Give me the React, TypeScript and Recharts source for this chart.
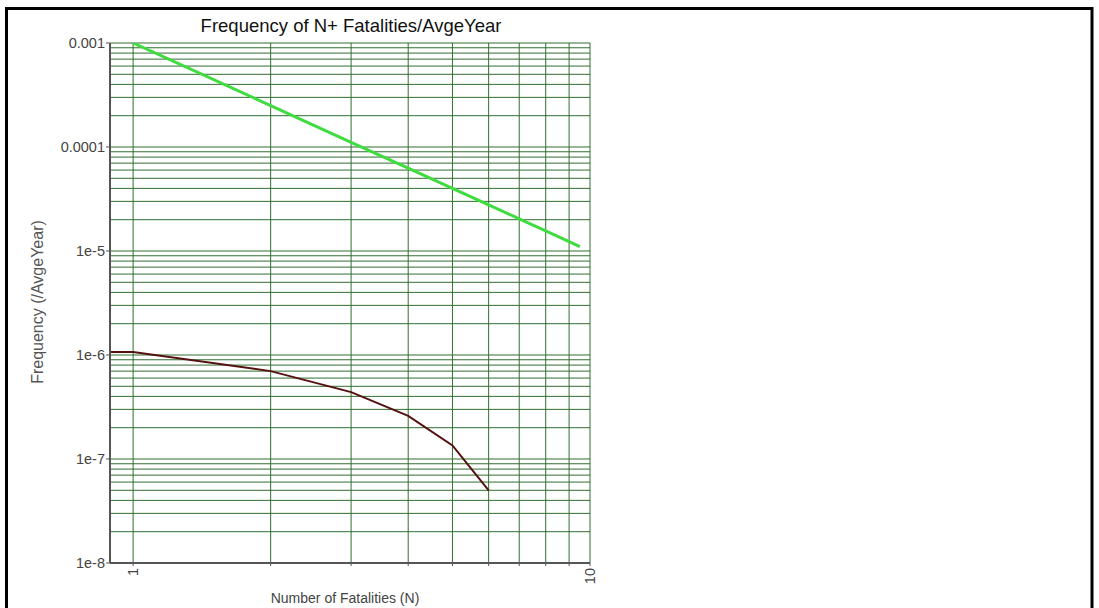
import React from "react";
import { LineChart, Line, XAxis, YAxis, CartesianGrid } from "recharts";

// Criterion line (upper, green)
const criterionN = [1, 2, 3, 4, 5, 6, 7, 8, 9, 9.5];
const criterionFreq = [1e-3, 2.5e-4, 1.11e-4, 6.25e-5, 4.0e-5, 2.78e-5, 2.04e-5, 1.56e-5, 1.23e-5, 1.1e-5];

// F-N curve (lower, dark red)
const fnN = [0.89, 1, 2, 3, 4, 5, 6];
const fnFreq = [1.07e-6, 1.07e-6, 7.0e-7, 4.4e-7, 2.6e-7, 1.35e-7, 5.0e-8];

// axes
const xDomain = [0.89, 10];
const xTicks = [1, 2, 3, 4, 5, 6, 7, 8, 9, 10];
const xLabelled = [1, 10];

const yDomain = [1e-8, 1e-3];
const yDecades = [1e-8, 1e-7, 1e-6, 1e-5, 1e-4, 1e-3];
const yTickLabels = ["1e-8", "1e-7", "1e-6", "1e-5", "0.0001", "0.001"];
const yMinor = [1, 2, 3, 4, 5, 6, 7, 8, 9];
const yGrid = yDecades
  .slice(0, -1)
  .flatMap((d) => yMinor.map((m) => m * d))
  .concat([1e-3]);

const criterionData = criterionN.map((n, i) => ({ n, freq: criterionFreq[i] }));
const fnData = fnN.map((n, i) => ({ n, freq: fnFreq[i] }));

const FONT = "'Liberation Sans', Arial, sans-serif";
const GRID = "#2f6f2f";
const AXIS = "#555";

const sameLog = (a: number, b: number) => Math.abs(Math.log10(a) - Math.log10(b)) < 1e-6;

const YTick = (props: any) => {
  const { x, y, payload } = props;
  const idx = yDecades.findIndex((d) => sameLog(d, payload.value));
  if (idx < 0) return null;
  return (
    <g>
      <line x1={x + 1} x2={x + 5} y1={y} y2={y} stroke={AXIS} />
      <text x={x} y={y} dy="0.355em" textAnchor="end" fontSize={14.5} fontFamily={FONT} fill="#444">
        {yTickLabels[idx]}
      </text>
    </g>
  );
};

const XTick = (props: any) => {
  const { x, y, payload } = props;
  if (!xLabelled.some((v) => sameLog(v, payload.value))) return null;
  return (
    <g transform={`translate(${x},${y})`}>
      <text transform="rotate(-90)" textAnchor="end" dy="0.355em" fontSize={14.5} fontFamily={FONT} fill="#444">
        {String(payload.value)}
      </text>
    </g>
  );
};

export default function App() {
  return (
    <div style={{ position: "absolute", left: 0, top: 0, width: 1099, height: 608, background: "#fff" }}>
      <LineChart
        width={1099}
        height={608}
        margin={{ top: 43, right: 509, bottom: 0, left: 50 }}
      >
        <CartesianGrid stroke={GRID} strokeWidth={1} />
        <XAxis
          dataKey="n"
          type="number"
          scale="log"
          domain={xDomain}
          allowDataOverflow
          ticks={xTicks}
          interval={0}
          height={45}
          tickSize={3}
          tickMargin={2}
          tickLine={{ stroke: AXIS }}
          axisLine={{ stroke: AXIS, strokeWidth: 2 }}
          tick={<XTick />}
        />
        <XAxis
          xAxisId="top"
          orientation="top"
          type="number"
          scale="log"
          domain={xDomain}
          allowDataOverflow
          height={0}
          tick={false}
          tickLine={false}
          axisLine={{ stroke: AXIS, strokeWidth: 1.5 }}
        />
        <YAxis
          type="number"
          scale="log"
          domain={yDomain}
          allowDataOverflow
          ticks={yGrid}
          interval={0}
          width={60}
          tickSize={4}
          tickMargin={1}
          tickLine={false}
          axisLine={{ stroke: AXIS, strokeWidth: 2 }}
          tick={<YTick />}
        />
        <YAxis
          yAxisId="right"
          orientation="right"
          type="number"
          scale="log"
          domain={yDomain}
          allowDataOverflow
          width={0}
          tick={false}
          tickLine={false}
          axisLine={{ stroke: AXIS, strokeWidth: 1.5 }}
        />
        <Line
          data={criterionData}
          dataKey="freq"
          stroke="#3fdc3f"
          strokeWidth={3}
          dot={false}
          isAnimationActive={false}
        />
        <Line
          data={fnData}
          dataKey="freq"
          stroke="#551010"
          strokeWidth={2}
          dot={false}
          isAnimationActive={false}
        />
      </LineChart>
      <svg
        width={1099}
        height={608}
        style={{ position: "absolute", left: 0, top: 0, pointerEvents: "none" }}
      >
        <path d="M6.5,608 V8.5 H1092 V608" fill="none" stroke="#000" strokeWidth={3} />
        <text x={351} y={32} textAnchor="middle" fontSize={18.5} fontFamily={FONT} fill="#111">
          Frequency of N+ Fatalities/AvgeYear
        </text>
        <text
          transform="translate(37,302) rotate(-90)"
          textAnchor="middle"
          dy="0.355em"
          fontSize={16}
          fontFamily={FONT}
          fill="#555"
        >
          Frequency (/AvgeYear)
        </text>
        <text x={345} y={603} textAnchor="middle" fontSize={14} fontFamily={FONT} fill="#444">
          Number of Fatalities (N)
        </text>
      </svg>
    </div>
  );
}
